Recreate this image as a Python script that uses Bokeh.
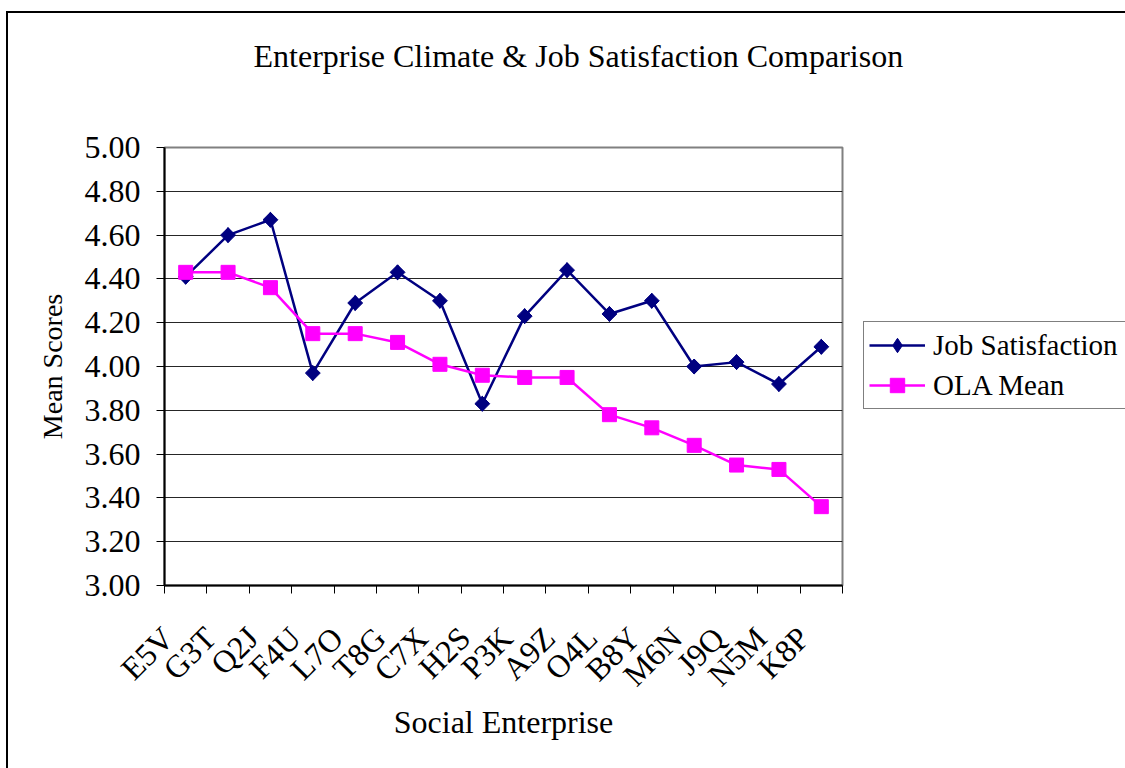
from math import pi

from bokeh.embed import file_html
from bokeh.models import (ColumnDataSource, FixedTicker, Legend, LegendItem,
                          NumeralTickFormatter, Range1d)
from bokeh.plotting import figure
from bokeh.resources import INLINE

# ---- data ----
enterprises = ["E5V", "G3T", "Q2J", "F4U", "L7O", "T8G", "C7X", "H2S",
               "P3K", "A9Z", "O4L", "B8Y", "M6N", "J9Q", "N5M", "K8P"]
job_satisfaction = [4.41, 4.60, 4.67, 3.97, 4.29, 4.43, 4.30, 3.83,
                    4.23, 4.44, 4.24, 4.30, 4.00, 4.02, 3.92, 4.09]
ola_mean = [4.43, 4.43, 4.36, 4.15, 4.15, 4.11, 4.01, 3.96,
            3.95, 3.95, 3.78, 3.72, 3.64, 3.55, 3.53, 3.36]
y_ticks = [3.00, 3.20, 3.40, 3.60, 3.80, 4.00, 4.20, 4.40, 4.60, 4.80, 5.00]

FONT = "Liberation Serif"
NAVY = "#000080"
MAGENTA = "#FF00FF"

# each enterprise sits in the middle of its own unit-wide slot
n = len(enterprises)
centers = [i + 0.5 for i in range(n)]
bounds = list(range(n + 1))
# slanted labels hang a little to the left of their slot centre
label_pos = [c - 0.42 for c in centers]

src = ColumnDataSource(dict(x=centers, name=enterprises,
                            job=job_satisfaction, ola=ola_mean))

p = figure(
    frame_width=678, frame_height=438,
    min_border_left=156, min_border_right=283,
    min_border_top=134, min_border_bottom=183,
    x_range=Range1d(0, n), y_range=Range1d(y_ticks[0], y_ticks[-1]),
    output_backend="svg", toolbar_location=None,
    title="Enterprise Climate & Job Satisfaction Comparison",
    background_fill_color="white", border_fill_color="white",
)

# chart-area border (left and top edges; the rest runs past the page)
p.styles = {
    "border-left": "2px solid black",
    "border-top": "2px solid black",
    "margin-left": "6px",
    "margin-top": "11px",
}

# title near the top, with empty room beneath it down to the plot area
p.title.text_font = FONT
p.title.text_font_size = "32px"
p.title.text_font_style = "normal"
p.title.text_color = "black"
p.title.align = "left"
p.title.offset = 89
p.title.standoff = 0
p.title.padding = dict(top=22, bottom=74, left=0, right=0)

# frame outline (top / right edges of the plot area)
p.outline_line_color = "#808080"
p.outline_line_width = 2

# series
js_line = p.line("x", "job", source=src, line_color=NAVY, line_width=2.5)
js_key = p.scatter("x", "job", source=src, marker="diamond", size=15,
                   fill_color=NAVY, line_color=NAVY)
js_marks = p.scatter("x", "job", source=src, marker="square", angle=pi / 4,
                     size=10.5, fill_color=NAVY, line_color=NAVY)
ola_line = p.line("x", "ola", source=src, line_color=MAGENTA, line_width=2.5)
ola_marks = p.scatter("x", "ola", source=src, marker="square", size=14,
                      fill_color=MAGENTA, line_color=MAGENTA)

# x axis: labels near slot centres, tick marks on slot boundaries
xa = p.xaxis[0]
xa.ticker = FixedTicker(ticks=label_pos, minor_ticks=bounds)
xa.major_label_overrides = {c: name for c, name in zip(label_pos, enterprises)}
xa.major_label_orientation = pi / 4
xa.major_tick_in = 0
xa.major_tick_out = 0
xa.minor_tick_in = 0
xa.minor_tick_out = 8
xa.minor_tick_line_color = "black"
xa.minor_tick_line_width = 1
xa.major_label_standoff = 39
xa.major_label_text_font = FONT
xa.major_label_text_font_size = "32px"
xa.major_label_text_color = "black"
xa.axis_label = "Social Enterprise"
xa.axis_label_text_font = FONT
xa.axis_label_text_font_size = "32px"
xa.axis_label_text_font_style = "normal"
xa.axis_label_text_color = "black"
xa.axis_label_standoff = -5
xa.axis_line_color = "black"
xa.axis_line_width = 2

# y axis
ya = p.yaxis[0]
ya.ticker = FixedTicker(ticks=y_ticks)
ya.formatter = NumeralTickFormatter(format="0.00")
ya.major_tick_in = 0
ya.major_tick_out = 8
ya.major_tick_line_color = "black"
ya.minor_tick_in = 0
ya.minor_tick_out = 0
ya.major_label_standoff = 16
ya.major_label_text_font = FONT
ya.major_label_text_font_size = "32px"
ya.major_label_text_color = "black"
ya.axis_label = "Mean Scores"
ya.axis_label_text_font = FONT
ya.axis_label_text_font_size = "28px"
ya.axis_label_text_font_style = "normal"
ya.axis_label_text_color = "black"
ya.axis_label_standoff = 14
ya.axis_line_color = "black"
ya.axis_line_width = 2

# grid
p.xgrid.visible = False
p.ygrid.ticker = FixedTicker(ticks=y_ticks)
p.ygrid.grid_line_color = "black"
p.ygrid.grid_line_alpha = 0.85
p.ygrid.grid_line_width = 1

# legend, to the right of the plot area
legend = Legend(
    items=[LegendItem(label="Job Satisfaction", renderers=[js_line, js_key]),
           LegendItem(label="OLA Mean", renderers=[ola_line, ola_marks])],
    location=(21, 176),
    border_line_color="black", border_line_width=1,
    background_fill_color="white", background_fill_alpha=1,
    label_text_font=FONT, label_text_font_size="29px", label_text_color="black",
    glyph_width=56, glyph_height=36, label_height=36, label_width=200,
    spacing=4, padding=5, margin=0, label_standoff=8,
)
p.add_layout(legend, "right")

open("out.html", "w").write(file_html(p, INLINE))
